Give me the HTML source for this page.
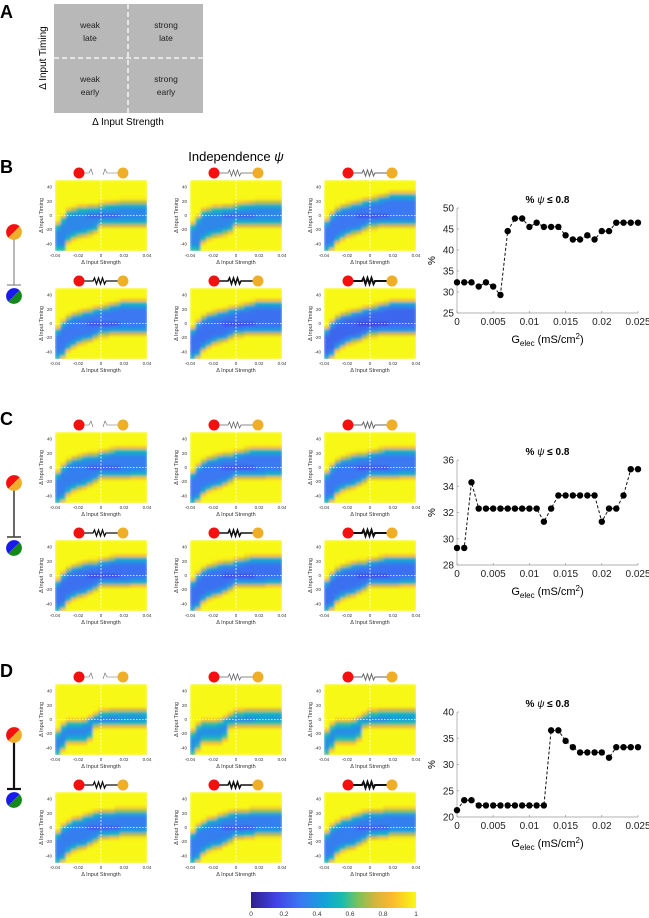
<!DOCTYPE html>
<html><head><meta charset="utf-8">
<style>
html,body{margin:0;padding:0;background:#fff;}
body{width:649px;height:918px;position:relative;overflow:hidden;font-family:"Liberation Sans",sans-serif;}
svg{position:absolute;left:0;top:0;}
</style></head>
<body>
<svg id="fig" width="649" height="918" viewBox="0 0 649 918" xmlns="http://www.w3.org/2000/svg">
<defs>
<linearGradient id="cbar" x1="0" x2="1" y1="0" y2="0">
<stop offset="0" stop-color="#30208c"/><stop offset="0.15" stop-color="#4242e6"/><stop offset="0.3" stop-color="#3a78f2"/><stop offset="0.45" stop-color="#12a4d8"/><stop offset="0.55" stop-color="#17bcb0"/><stop offset="0.65" stop-color="#7cc25a"/><stop offset="0.75" stop-color="#d2b63c"/><stop offset="0.85" stop-color="#fbb830"/><stop offset="1" stop-color="#f8f812"/>
</linearGradient>
<filter id="soft" x="0" y="0" width="1" height="1"><feGaussianBlur stdDeviation="1.2"/></filter>
</defs>
<!-- Panel A -->
<g>
<text x="0" y="18" font-size="18" font-weight="bold">A</text>
<rect x="54" y="4" width="149" height="109" fill="#b8b8b8"/>
<line x1="128" y1="4" x2="128" y2="113" stroke="#fff" stroke-width="1.3" stroke-dasharray="5,3"/>
<line x1="54" y1="58" x2="203" y2="58" stroke="#fff" stroke-width="1.3" stroke-dasharray="5,3"/>
<g font-size="8.5" text-anchor="middle" fill="#222">
<text x="90" y="28"><tspan x="90">weak</tspan><tspan x="90" dy="13">late</tspan></text>
<text x="166" y="28"><tspan x="166">strong</tspan><tspan x="166" dy="13">late</tspan></text>
<text x="90" y="82"><tspan x="90">weak</tspan><tspan x="90" dy="13">early</tspan></text>
<text x="166" y="82"><tspan x="166">strong</tspan><tspan x="166" dy="13">early</tspan></text>
</g>
<text x="128" y="125" font-size="10" text-anchor="middle">Δ Input Strength</text>
<text transform="translate(46,58) rotate(-90)" font-size="10" text-anchor="middle">Δ Input Timing</text>
</g>
<text x="0" y="173" font-size="18" font-weight="bold">B</text>
<text x="0" y="425" font-size="18" font-weight="bold">C</text>
<text x="0" y="677" font-size="18" font-weight="bold">D</text>
<text x="236" y="161" font-size="13" text-anchor="middle">Independence <tspan font-style="italic">ψ</tspan></text>
<g id="heat"></g>
<g id="lines"></g>
<g id="cb">
<rect x="251" y="892" width="165" height="16" fill="url(#cbar)"/>
</g>
</svg>
<script>
const NS="http://www.w3.org/2000/svg";
// ---- heatmap data ----
const strengths=[-0.04,-0.035,-0.03,-0.025,-0.02,-0.015,-0.01,-0.005,0,0.005,0.01,0.015,0.02,0.025,0.03,0.035,0.04];
const timings=[-50,-45,-40,-35,-30,-25,-20,-15,-10,-5,0,5,10,15,20,25,30,35,40,45,50];
const upperB=[-15,-5,5,8,10,10,12,12,14,15,16,17,18,18,18,18,18];
const lowerB=[-50,-50,-35,-30,-28,-26,-24,-20,-12,-12,-12,-12,-12,-12,-12,-12,-12];
const upperB2=[-10,0,8,12,14,16,18,20,22,24,26,28,30,30,30,30,30];
const lowerB2=[-50,-45,-35,-30,-26,-24,-22,-18,-14,-14,-12,-12,-12,-12,-12,-12,-12];
const upperC=[-10,0,8,12,14,16,18,18,20,22,24,25,25,25,25,25,25];
const lowerC=[-50,-45,-35,-30,-28,-25,-22,-18,-12,-12,-12,-12,-12,-12,-10,-10,-10];
const upperD=[-20,-10,-5,-5,-5,-3,0,5,10,10,12,12,12,12,12,12,12];
const lowerD=[-50,-40,-30,-30,-30,-30,-25,-8,-6,-6,-6,-6,-6,-6,-6,-6,-6];
const upperD2=[-10,0,5,10,12,15,18,20,22,22,22,24,24,24,24,24,24];
const lowerD2=[-50,-45,-35,-30,-28,-26,-22,-18,-12,-12,-10,-10,-8,-8,-8,-8,-8];
const heatUpper=[upperB,upperB,upperB2,upperB2,upperB2,upperB2,upperC,upperC,upperC,upperC,upperC,upperC,upperD,upperD,upperD,upperD2,upperD2,upperD2];
const heatLower=[lowerB,lowerB,lowerB2,lowerB2,lowerB2,lowerB2,lowerC,lowerC,lowerC,lowerC,lowerC,lowerC,lowerD,lowerD,lowerD,lowerD2,lowerD2,lowerD2];
const heatCore=[0.35,0.35,0.3,0.3,0.28,0.25,0.32,0.3,0.3,0.28,0.28,0.28,0.35,0.38,0.38,0.32,0.32,0.32];
const cmapStops=[[0,[48,32,140]],[0.15,[66,66,230]],[0.3,[58,120,242]],[0.45,[18,164,216]],[0.55,[23,188,176]],[0.65,[124,194,90]],[0.75,[210,182,60]],[0.85,[251,184,48]],[1,[248,248,18]]];
function cmap(v){v=Math.max(0,Math.min(1,v));for(let i=1;i<cmapStops.length;i++){if(v<=cmapStops[i][0]){const a=cmapStops[i-1],b=cmapStops[i];const t=(v-a[0])/(b[0]-a[0]);const c=a[1].map((x,k)=>Math.round(x+(b[1][k]-x)*t));return `rgb(${c})`;}}return 'rgb(248,248,18)';}
const colX=[55,190,324], panelY=[180,432,684], rowOff=[0,108];
const HW=92,HH=71;
const hg=document.getElementById('heat');
function mk(tag,attrs,parent){const e=document.createElementNS(NS,tag);for(const k in attrs)e.setAttribute(k,attrs[k]);(parent||hg).appendChild(e);return e;}
const sx=s=>(s+0.04)/0.08*HW, sy=t=>(50-t)/100*HH;
for(let p=0;p<3;p++)for(let r=0;r<2;r++)for(let c=0;c<3;c++){
 const idx=p*6+r*3+c;const x0=colX[c],y0=panelY[p]+rowOff[r];
 const g=mk('g',{transform:`translate(${x0},${y0})`});
 
 
 const clipId='clip'+idx;
 const cp=mk('clipPath',{id:clipId},g);mk('rect',{x:0,y:0,width:HW,height:HH},cp);
 const outer=mk('g',{'clip-path':`url(#${clipId})`},g);
 const cells=mk('g',{filter:'url(#soft)'},outer);
 const cw=HW/strengths.length, ch=HH/timings.length;
 strengths.forEach((s,i)=>{timings.forEach((t,j)=>{
  const up=heatUpper[idx][i],lo=heatLower[idx][i];
  let v;
  if(t<=up&&t>=lo){v=heatCore[idx];const d=Math.min(up-t,t-lo);v+=Math.max(0,0.22-d*0.025);if(Math.abs(t)<3&&s>-0.015&&s<0.02)v-=0.12;}
  else{const d=t>up?t-up:lo-t;v=Math.min(1,0.62+d*0.05);}
  const rc=mk('rect',{x:(i*cw).toFixed(2),y:((timings.length-1-j)*ch).toFixed(2),width:(cw+0.4).toFixed(2),height:(ch+0.4).toFixed(2),fill:cmap(v)},cells);
  
  
 });});
 mk('line',{x1:sx(0),x2:sx(0),y1:0,y2:HH,stroke:'#fff','stroke-width':0.8,'stroke-dasharray':'2,1.5'},g);
 mk('line',{x1:0,x2:HW,y1:sy(0),y2:sy(0),stroke:'#fff','stroke-width':0.8,'stroke-dasharray':'1.5,1.5'},g);
 [-0.04,-0.02,0,0.02,0.04].forEach(s=>{const t=mk('text',{x:sx(s),y:HH+6,'font-size':4.5,'text-anchor':'middle',fill:'#333'},g);t.textContent=s===0?'0':String(s);});
 [40,20,0,-20,-40].forEach(v=>{const t=mk('text',{x:-3,y:sy(v)+1.5,'font-size':4.5,'text-anchor':'end',fill:'#333'},g);t.textContent=v;});
 const xl=mk('text',{x:HW/2,y:HH+13,'font-size':5.5,'text-anchor':'middle',fill:'#333'},g);xl.textContent='Δ Input Strength';
 
 const yl=mk('text',{transform:`translate(-12,${HH/2}) rotate(-90)`,'font-size':5.5,'text-anchor':'middle',fill:'#333'},g);yl.textContent='Δ Input Timing';
 
 // coupling icon
 const k=r*3+c; const ic=mk('g',{transform:'translate(0,-7)'},g);
 
 const sw=[0.6,0.8,1,1.3,1.6,2][k], col=k<3?'#666':'#111';
 if(k===0){mk('path',{d:'M24,0 H34 L36,-4 L38,2 M48,2 L50,-4 L52,0 H68',fill:'none',stroke:col,'stroke-width':sw},ic);}
 else{mk('path',{d:'M24,0 H38 L39.5,-3 L41.5,3 L43.5,-3 L45.5,3 L47.5,-3 L49.5,3 L51,0 H68',fill:'none',stroke:col,'stroke-width':sw},ic);}
 mk('circle',{cx:24,cy:0,r:5.5,fill:'#f51010'},ic);
 mk('circle',{cx:68,cy:0,r:5.5,fill:'#eeae28'},ic);
}
// left cell icons
[[232,296,'#888',1.2],[483,548,'#444',1.6],[735,800,'#111',2.2]].forEach(([a,b,col,w])=>{
 const g=mk('g',{});
 mk('line',{x1:14,x2:14,y1:a,y2:b-11,stroke:col,'stroke-width':w},g);
 mk('line',{x1:7,x2:21,y1:b-11,y2:b-11,stroke:col,'stroke-width':w},g);
 mk('path',{d:`M${14-8*0.707},${a+8*0.707} A8,8 0 0 1 ${14+8*0.707},${a-8*0.707} Z`,fill:'#f51010'},g);
 mk('path',{d:`M${14+8*0.707},${a-8*0.707} A8,8 0 0 1 ${14-8*0.707},${a+8*0.707} Z`,fill:'#eeae28'},g);
 mk('path',{d:`M${14-8*0.707},${b+8*0.707} A8,8 0 0 1 ${14+8*0.707},${b-8*0.707} Z`,fill:'#1a1aee'},g);
 mk('path',{d:`M${14+8*0.707},${b-8*0.707} A8,8 0 0 1 ${14-8*0.707},${b+8*0.707} Z`,fill:'#14881a'},g);
});
// colorbar ticks
const cbTicks=[0,0.2,0.4,0.6,0.8,1];
cbTicks.forEach(v=>{const t=mk('text',{x:251+v*165,y:918-2,'font-size':6.5,'text-anchor':'middle',fill:'#333'},document.getElementById('cb'));t.textContent=String(v);
 });
// ---- line charts ----
const gElec=[0,0.001,0.002,0.003,0.004,0.005,0.006,0.007,0.008,0.009,0.010,0.011,0.012,0.013,0.014,0.015,0.016,0.017,0.018,0.019,0.020,0.021,0.022,0.023,0.024,0.025];
const seriesB=[32.3,32.3,32.3,31.3,32.3,31.3,29.3,44.5,47.5,47.5,45.5,46.5,45.5,45.5,45.5,43.5,42.5,42.5,43.5,42.5,44.5,44.5,46.5,46.5,46.5,46.5];
const seriesC=[29.3,29.3,34.3,32.3,32.3,32.3,32.3,32.3,32.3,32.3,32.3,32.3,31.3,32.3,33.3,33.3,33.3,33.3,33.3,33.3,31.3,32.3,32.3,33.3,35.3,35.3];
const seriesD=[21.3,23.2,23.2,22.2,22.2,22.2,22.2,22.2,22.2,22.2,22.2,22.2,22.2,36.5,36.5,34.5,33.3,32.3,32.3,32.3,32.3,31.3,33.3,33.3,33.3,33.3];
const yTicksB=[25,30,35,40,45,50], yTicksC=[28,30,32,34,36], yTicksD=[20,25,30,35,40];
const xTicks=[0,0.005,0.01,0.015,0.02,0.025];
const lg=document.getElementById('lines');
[[seriesB,yTicksB,208,'b'],[seriesC,yTicksC,460,'c'],[seriesD,yTicksD,712,'d']].forEach(([ser,yt,top,nm])=>{
 const L=457,R=638,H=105,B=top+H,ymin=yt[0],ymax=yt[yt.length-1];
 const X=v=>L+(v-0)/0.025*(R-L), Y=v=>B-(v-ymin)/(ymax-ymin)*H;
 const g=mk('g',{},lg);
 mk('line',{x1:L,x2:L,y1:top,y2:B,stroke:'#999','stroke-width':0.7},g);
 mk('line',{x1:L,x2:R,y1:B,y2:B,stroke:'#999','stroke-width':0.7},g);
 yt.forEach(v=>{mk('line',{x1:L,x2:L+2,y1:Y(v),y2:Y(v),stroke:'#999','stroke-width':0.7},g);const t=mk('text',{x:L-3,y:Y(v)+3.5,'font-size':10,'text-anchor':'end',fill:'#222'},g);t.textContent=v;
  });
 xTicks.forEach(v=>{mk('line',{x1:X(v),x2:X(v),y1:B,y2:B-2,stroke:'#999','stroke-width':0.7},g);const t=mk('text',{x:X(v),y:B+12,'font-size':10,'text-anchor':'middle',fill:'#222'},g);t.textContent=String(v);
  });
 const pl=mk('polyline',{points:gElec.map((x,i)=>X(x).toFixed(1)+','+Y(ser[i]).toFixed(1)).join(' '),fill:'none',stroke:'#111','stroke-width':1,'stroke-dasharray':'3,2'},g);
 
 gElec.forEach((x,i)=>{const c=mk('circle',{cx:X(x),cy:Y(ser[i]),r:3.2,fill:'#000'},g);});
 const tt=mk('text',{x:(L+R)/2,y:top-5,'font-size':10,'font-weight':'bold','text-anchor':'middle'},g);
 tt.innerHTML='% <tspan font-style="italic" font-weight="normal">ψ</tspan> ≤ 0.8';
 
 const xl=mk('text',{x:(L+R)/2,y:B+30,'font-size':11,'text-anchor':'middle'},g);
 xl.innerHTML='G<tspan font-size="8" dy="3">elec</tspan><tspan dy="-3"> (mS/cm</tspan><tspan font-size="8" dy="-4">2</tspan><tspan dy="4">)</tspan>';
 
 const yl=mk('text',{transform:`translate(${L-22},${top+H/2}) rotate(-90)`,'font-size':10,'text-anchor':'middle'},g);yl.textContent='%';
 
});
</script>
</body></html>
